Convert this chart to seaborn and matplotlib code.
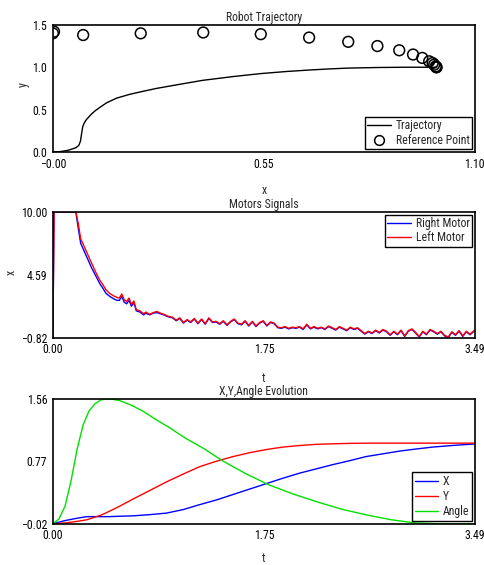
import numpy as np
import pandas as pd
import seaborn as sb
import matplotlib.pyplot as plt
from matplotlib.lines import Line2D

# ##############################################################################
# data
traj_x = [0.0, 0.02, 0.04, 0.06, 0.068, 0.072, 0.075, 0.078, 0.082, 0.087,
          0.093, 0.10, 0.11, 0.122, 0.14, 0.166, 0.20, 0.229, 0.27, 0.32,
          0.39, 0.47, 0.542, 0.61, 0.668, 0.72, 0.77, 0.85, 0.92, 1.0]
traj_y = [0.0, 0.005, 0.02, 0.05, 0.08, 0.13, 0.22, 0.30, 0.345, 0.38,
          0.41, 0.445, 0.485, 0.525, 0.58, 0.635, 0.68, 0.71, 0.75, 0.79,
          0.845, 0.89, 0.925, 0.95, 0.967, 0.98, 0.99, 0.997, 1.0, 1.0]
ref_x = [0.0, 0.003, 0.079, 0.229, 0.392, 0.542, 0.668, 0.770, 0.846, 0.903,
         0.939, 0.963, 0.981, 0.990, 0.994, 0.998, 1.0, 1.0]
ref_y = [1.40, 1.42, 1.38, 1.40, 1.41, 1.39, 1.35, 1.30, 1.25, 1.20,
         1.15, 1.11, 1.07, 1.05, 1.03, 1.01, 1.00, 1.00]

t_motor = [0.00, 0.01, 0.19, 0.21, 0.23, 0.26, 0.29, 0.32, 0.36, 0.39,
           0.41, 0.44, 0.47, 0.50, 0.53, 0.55, 0.57, 0.59, 0.61, 0.63,
           0.65, 0.67, 0.69, 0.72, 0.75, 0.77, 0.80, 0.83, 0.86, 0.89,
           0.92, 0.95, 0.99, 1.02, 1.05, 1.08, 1.11, 1.14, 1.17, 1.20,
           1.23, 1.26, 1.29, 1.32, 1.35, 1.38, 1.41, 1.44, 1.47, 1.50,
           1.53, 1.56, 1.59, 1.62, 1.65, 1.68, 1.71, 1.74, 1.77, 1.80,
           1.83, 1.86, 1.89, 1.92, 1.95, 1.98, 2.01, 2.04, 2.07, 2.10,
           2.13, 2.16, 2.19, 2.22, 2.25, 2.28, 2.31, 2.34, 2.37, 2.40,
           2.43, 2.46, 2.49, 2.52, 2.55, 2.58, 2.61, 2.64, 2.67, 2.70,
           2.73, 2.76, 2.79, 2.82, 2.85, 2.88, 2.91, 2.94, 2.97, 3.00,
           3.03, 3.06, 3.09, 3.12, 3.15, 3.18, 3.21, 3.24, 3.27, 3.30,
           3.33, 3.36, 3.39, 3.42, 3.45, 3.49]
left_motor = [-0.82, 10.0, 10.0, 9.0, 7.7, 7.0, 6.3, 5.6, 4.7, 4.1,
              3.8, 3.3, 3.0, 2.8, 2.65, 2.6, 2.95, 2.45, 2.3, 2.6,
              2.05, 2.35, 1.6, 1.5, 1.25, 1.4, 1.2, 1.35, 1.45, 1.3,
              1.2, 1.05, 0.95, 0.7, 0.9, 0.5, 0.75, 0.55, 0.85, 0.45,
              0.8, 0.4, 0.9, 0.55, 0.6, 0.4, 0.65, 0.3, 0.6, 0.8,
              0.45, 0.35, 0.65, 0.25, 0.6, 0.2, 0.5, 0.65, 0.25, 0.55,
              0.45, 0.1, 0.05, 0.15, 0.0, 0.1, 0.05, 0.15, -0.05, 0.35,
              0.0, 0.15, 0.0, 0.1, -0.05, 0.2, 0.05, -0.1, 0.15, 0.0,
              -0.15, 0.1, -0.05, 0.05, -0.2, -0.45, -0.25, -0.4, -0.15, -0.35,
              -0.1, -0.25, -0.55, -0.25, -0.5, -0.15, -0.65, -0.2, -0.05, -0.35,
              -0.7, -0.25, -0.5, -0.1, -0.25, -0.45, -0.25, -0.6, -0.75, -0.3,
              -0.55, -0.2, -0.65, -0.25, -0.5, -0.15]
right_motor = [-0.82, 10.0, 10.0, 8.6, 7.3, 6.6, 5.9, 5.2, 4.4, 3.8,
               3.5, 3.0, 2.75, 2.55, 2.4, 2.4, 2.75, 2.25, 2.1, 2.4,
               1.9, 2.2, 1.5, 1.4, 1.15, 1.3, 1.15, 1.3, 1.35, 1.25,
               1.15, 1.0, 0.9, 0.65, 0.85, 0.45, 0.7, 0.5, 0.8, 0.4,
               0.75, 0.35, 0.85, 0.5, 0.55, 0.35, 0.6, 0.25, 0.55, 0.75,
               0.4, 0.3, 0.6, 0.2, 0.55, 0.15, 0.45, 0.6, 0.2, 0.5,
               0.4, 0.05, 0.0, 0.1, -0.05, 0.05, 0.0, 0.1, -0.1, 0.3,
               -0.05, 0.1, -0.05, 0.05, -0.1, 0.15, 0.0, -0.15, 0.1, -0.05,
               -0.2, 0.05, -0.1, 0.0, -0.25, -0.5, -0.3, -0.45, -0.2, -0.4,
               -0.15, -0.3, -0.6, -0.3, -0.55, -0.2, -0.7, -0.25, -0.1, -0.4,
               -0.75, -0.3, -0.55, -0.15, -0.3, -0.5, -0.3, -0.65, -0.8, -0.35,
               -0.6, -0.25, -0.7, -0.3, -0.55, -0.2]

t_angle = [0.0, 0.05, 0.10, 0.15, 0.20, 0.25, 0.30, 0.35, 0.40, 0.47,
           0.55, 0.65, 0.75, 0.85, 0.95, 1.10, 1.25, 1.41, 1.60, 1.79,
           2.00, 2.20, 2.40, 2.60, 2.80, 3.00, 3.20, 3.49]
angle_vals = [-0.02, 0.04, 0.20, 0.52, 0.92, 1.23, 1.41, 1.50, 1.55, 1.56,
              1.54, 1.48, 1.40, 1.30, 1.21, 1.06, 0.93, 0.77, 0.61, 0.47,
              0.35, 0.25, 0.16, 0.09, 0.03, -0.01, -0.02, -0.02]
t_xy = [0.0, 0.10, 0.20, 0.28, 0.40, 0.47, 0.55, 0.66, 0.80, 0.94,
        1.08, 1.21, 1.35, 1.49, 1.63, 1.77, 1.90, 2.04, 2.18, 2.32,
        2.46, 2.59, 2.73, 2.87, 3.00, 3.14, 3.30, 3.49]
x_vals = [-0.02, 0.02, 0.05, 0.07, 0.07, 0.07, 0.075, 0.08, 0.095, 0.115,
          0.16, 0.22, 0.28, 0.35, 0.42, 0.49, 0.555, 0.62, 0.675, 0.73,
          0.78, 0.83, 0.865, 0.90, 0.925, 0.95, 0.97, 0.99]
y_vals = [-0.02, -0.01, 0.01, 0.03, 0.09, 0.14, 0.20, 0.29, 0.40, 0.51,
          0.61, 0.70, 0.77, 0.83, 0.88, 0.92, 0.95, 0.97, 0.985, 0.992,
          0.997, 1.0, 1.0, 1.0, 1.0, 1.0, 1.0, 1.0]


# ##############################################################################
def style_axes(ax, xlim, ylim, xticks, xticklabels, yticks, yticklabels, title):
  ax.set_xlim(xlim)
  ax.set_ylim(ylim)
  ax.set_xticks(xticks, labels=xticklabels)
  ax.set_yticks(yticks, labels=yticklabels)
  ax.tick_params(direction='out', length=3, width=1, labelsize=8.5, pad=1,
                 colors='black')
  for sp in ax.spines.values():
    sp.set_visible(True)
    sp.set_color('black')
    sp.set_linewidth(1.2)
  ax.set_title(title, fontsize=8.5, pad=3)


def make_legend(ax, handles, labels, loc, spacing):
  leg = ax.legend(handles, labels, loc=loc, fontsize=8.5, frameon=True,
                  fancybox=False, framealpha=1, edgecolor='black',
                  borderpad=0.2, handlelength=2.0, handletextpad=0.4,
                  labelspacing=spacing, borderaxespad=0.25)
  leg.get_frame().set_linewidth(1.0)
  return leg


sb.set_style('white')
plt.rcParams['font.family'] = ['Roboto Condensed', 'Liberation Sans', 'DejaVu Sans']
plt.rcParams['axes.unicode_minus'] = True

fig = plt.figure(figsize=(4.85, 5.65), dpi=100)
ax1 = fig.add_axes([0.109, 0.731, 0.870, 0.225])
ax2 = fig.add_axes([0.109, 0.402, 0.870, 0.223])
ax3 = fig.add_axes([0.109, 0.073, 0.870, 0.221])

# --------------------------------------------------------------------------
# robot trajectory
df_traj = pd.DataFrame({'x': traj_x, 'y': traj_y})
df_ref = pd.DataFrame({'x': ref_x, 'y': ref_y})
sb.lineplot(data=df_traj, x='x', y='y', ax=ax1, color='black', lw=1,
            estimator=None, sort=False)
sb.scatterplot(data=df_ref, x='x', y='y', ax=ax1, marker='o', s=60,
               facecolor='none', edgecolor='black', linewidth=1.1)
style_axes(ax1, (0, 1.1), (0, 1.5), [0, 0.55, 1.1],
           ['\u22120.00', '0.55', '1.10'], [0, 0.5, 1.0, 1.5],
           ['0.0', '0.5', '1.0', '1.5'], 'Robot Trajectory')
ax1.set_xlabel('x', fontsize=8.5)
ax1.set_ylabel('y', fontsize=8.5)
ax1.xaxis.set_label_coords(0.5, -0.25)
ax1.yaxis.set_label_coords(-0.055, 0.53)
make_legend(ax1,
            [Line2D([], [], color='black', lw=1),
             Line2D([], [], ls='none', marker='o', mfc='none', mec='black',
                    ms=7, mew=1.1)],
            ['Trajectory', 'Reference Point'], 'lower right', 0.12)

# --------------------------------------------------------------------------
# motor signals
df_mot = pd.DataFrame({'t': t_motor, 'right': right_motor, 'left': left_motor})
sb.lineplot(data=df_mot, x='t', y='right', ax=ax2, color='#0000ff', lw=1,
            estimator=None, sort=False)
sb.lineplot(data=df_mot, x='t', y='left', ax=ax2, color='#ff0000', lw=1,
            estimator=None, sort=False)
style_axes(ax2, (0, 3.49), (-0.82, 10.0), [0, 1.75, 3.49],
           ['0.00', '1.75', '3.49'], [-0.82, 4.59, 10.0],
           ['\u22120.82', '4.59', '10.00'], 'Motors Signals')
ax2.set_xlabel('t', fontsize=8.5)
ax2.set_ylabel('x', fontsize=8.5)
ax2.xaxis.set_label_coords(0.5, -0.27)
ax2.yaxis.set_label_coords(-0.083, 0.52)
make_legend(ax2,
            [Line2D([], [], color='#0000ff', lw=1),
             Line2D([], [], color='#ff0000', lw=1)],
            ['Right Motor', 'Left Motor'], 'upper right', 0.1)

# --------------------------------------------------------------------------
# x, y, angle evolution
df_ang = pd.DataFrame({'t': t_angle, 'angle': angle_vals})
df_xy = pd.DataFrame({'t': t_xy, 'X': x_vals, 'Y': y_vals})
sb.lineplot(data=df_xy, x='t', y='X', ax=ax3, color='#0000ff', lw=1,
            estimator=None, sort=False)
sb.lineplot(data=df_xy, x='t', y='Y', ax=ax3, color='#ff0000', lw=1,
            estimator=None, sort=False)
sb.lineplot(data=df_ang, x='t', y='angle', ax=ax3, color='#00e000', lw=1,
            estimator=None, sort=False)
style_axes(ax3, (0, 3.49), (-0.02, 1.56), [0, 1.75, 3.49],
           ['0.00', '1.75', '3.49'], [-0.02, 0.77, 1.56],
           ['\u22120.02', '0.77', '1.56'], 'X,Y,Angle Evolution')
ax3.set_xlabel('t', fontsize=8.5)
ax3.set_ylabel('')
ax3.xaxis.set_label_coords(0.5, -0.23)
make_legend(ax3,
            [Line2D([], [], color='#0000ff', lw=1),
             Line2D([], [], color='#ff0000', lw=1),
             Line2D([], [], color='#00e000', lw=1)],
            ['X', 'Y', 'Angle'], 'lower right', 0.2)

# --------------------------------------------------------------------------
# store graph
fig.savefig('out.png', dpi=100)
plt.close('all')
